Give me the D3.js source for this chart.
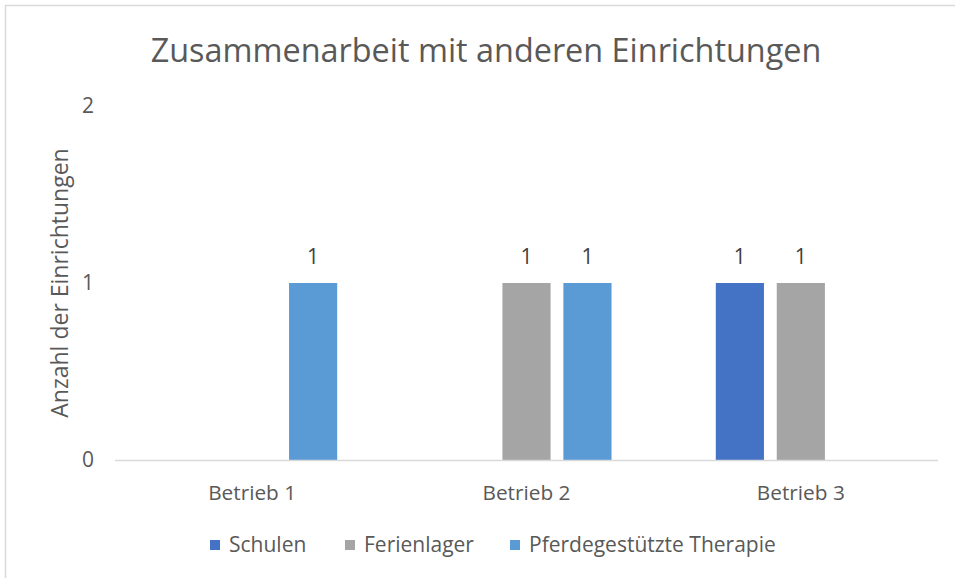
<!DOCTYPE html>
<html>
<head>
<meta charset="utf-8">
<script src="https://cdn.jsdelivr.net/npm/d3@7"></script>
<style>
  body { margin: 0; background: #fff; }
  svg { display: block; font-family: "Open Sans", "Noto Sans", sans-serif; }
</style>
</head>
<body>
<div id="chart"></div>
<script>
// data
const categories = ["Betrieb 1", "Betrieb 2", "Betrieb 3"];
const seriesNames = ["Schulen", "Ferienlager", "Pferdegestützte Therapie"];
const seriesColors = ["#4472C4", "#A5A5A5", "#5B9BD5"];
const schulen = [0, 0, 1];
const ferienlager = [0, 1, 1];
const pferdeTherapie = [1, 1, 0];
const yTicks = [0, 1, 2];

const seriesValues = [schulen, ferienlager, pferdeTherapie];

const width = 955, height = 578;
const margin = {top: 106, right: 17, bottom: 118, left: 115};
const textColor = "#595959";

const svg = d3.select("#chart").append("svg")
    .attr("width", width)
    .attr("height", height);

// chart border (right/bottom edges run off the picture)
svg.append("rect")
    .attr("x", 5.5).attr("y", 5.5)
    .attr("width", 1000).attr("height", 1000)
    .attr("fill", "none")
    .attr("stroke", "#D9D9D9")
    .attr("stroke-width", 1.5);

const plotW = width - margin.left - margin.right;
const plotH = height - margin.top - margin.bottom;

const g = svg.append("g")
    .attr("transform", "translate(" + margin.left + "," + margin.top + ")");

const x0 = d3.scaleBand()
    .domain(categories)
    .range([0, plotW])
    .paddingInner(0.38)
    .paddingOuter(0.19);

const x1 = d3.scaleBand()
    .domain(seriesNames)
    .range([0, x0.bandwidth()])
    .paddingInner(0.21);

const y = d3.scaleLinear()
    .domain([0, 2])
    .range([plotH, 0]);

// y axis tick labels (no line)
g.append("g")
    .selectAll("text")
    .data(yTicks)
    .join("text")
    .attr("x", -27)
    .attr("y", d => y(d))
    .attr("dy", "0.35em")
    .attr("text-anchor", "middle")
    .attr("fill", textColor)
    .style("font-size", "21px")
    .text(d => d);

// bars
const rows = categories.map((c, i) => ({
    cat: c,
    vals: seriesNames.map((s, j) => ({series: s, value: seriesValues[j][i], color: seriesColors[j]}))
}));

const groups = g.append("g")
    .selectAll("g")
    .data(rows)
    .join("g")
    .attr("transform", d => "translate(" + x0(d.cat) + ",0)");

groups.selectAll("rect")
    .data(d => d.vals.filter(v => v.value > 0))
    .join("rect")
    .attr("x", d => x1(d.series))
    .attr("y", d => y(d.value))
    .attr("width", x1.bandwidth())
    .attr("height", d => y(0) - y(d.value))
    .attr("fill", d => d.color);

groups.selectAll("text")
    .data(d => d.vals.filter(v => v.value > 0))
    .join("text")
    .attr("x", d => x1(d.series) + x1.bandwidth() / 2)
    .attr("y", d => y(d.value) - 26)
    .attr("dy", "0.35em")
    .attr("text-anchor", "middle")
    .attr("fill", "#404040")
    .style("font-size", "21px")
    .text(d => d.value);

// x axis baseline
g.append("line")
    .attr("x1", 0).attr("x2", plotW)
    .attr("y1", y(0) + 0.5).attr("y2", y(0) + 0.5)
    .attr("stroke", "#D9D9D9")
    .attr("stroke-width", 1.5);

// category labels
g.append("g")
    .selectAll("text")
    .data(categories)
    .join("text")
    .attr("x", d => x0(d) + x0.bandwidth() / 2)
    .attr("y", plotH + 33)
    .attr("dy", "0.35em")
    .attr("text-anchor", "middle")
    .attr("fill", textColor)
    .style("font-size", "20.8px")
    .text(d => d);

// title
svg.append("text")
    .attr("x", 486)
    .attr("y", 51)
    .attr("dy", "0.35em")
    .attr("text-anchor", "middle")
    .attr("fill", textColor)
    .style("font-size", "32.4px")
    .text("Zusammenarbeit mit anderen Einrichtungen");

// y axis title
svg.append("text")
    .attr("transform", "translate(60," + (margin.top + y(1)) + ") rotate(-90)")
    .attr("dy", "0.35em")
    .attr("text-anchor", "middle")
    .attr("fill", textColor)
    .style("font-size", "23px")
    .text("Anzahl der Einrichtungen");

// legend
const legendX = [210, 345, 510];
const legend = svg.append("g")
    .selectAll("g")
    .data(seriesNames)
    .join("g")
    .attr("transform", (d, i) => "translate(" + legendX[i] + ",545)");

legend.append("rect")
    .attr("x", 0).attr("y", -5)
    .attr("width", 10).attr("height", 10)
    .attr("fill", (d, i) => seriesColors[i]);

legend.append("text")
    .attr("x", 19)
    .attr("dy", "0.35em")
    .attr("fill", textColor)
    .style("font-size", "21px")
    .text(d => d);
</script>
</body>
</html>
